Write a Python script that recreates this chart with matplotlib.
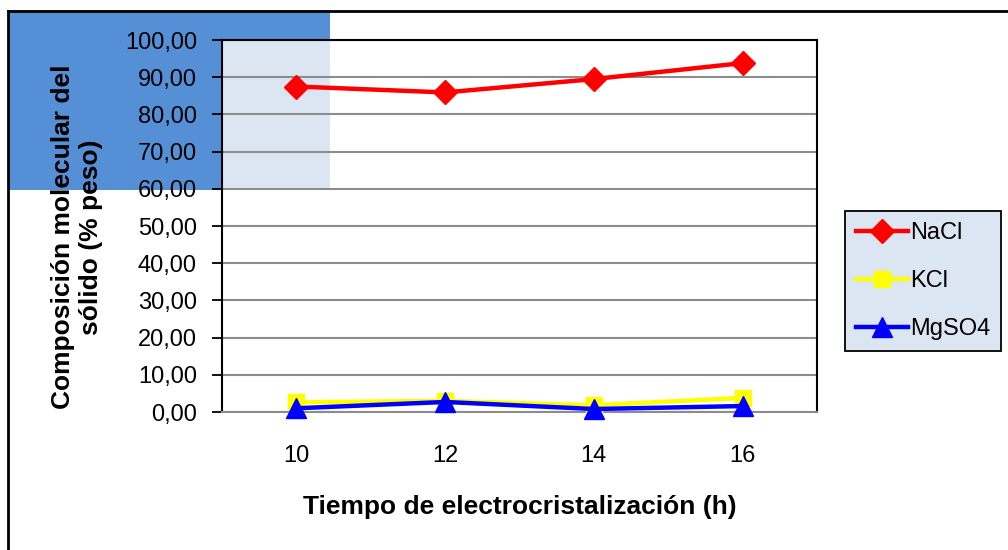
import matplotlib.pyplot as plt
from matplotlib.patches import Rectangle
from matplotlib.lines import Line2D

plt.rcParams['font.family'] = ['Liberation Sans', 'DejaVu Sans']

# data
tiempo = [10, 12, 14, 16]
nacl = [87.5, 85.9, 89.5, 93.8]
kcl = [2.6, 3.0, 1.8, 3.8]
mgso4 = [1.0, 2.7, 0.8, 1.6]
y_ticks = [0, 10, 20, 30, 40, 50, 60, 70, 80, 90, 100]

fig = plt.figure(figsize=(10.08, 5.5), dpi=100)
fig.patch.set_facecolor('white')

# stray blue block behind the top-left corner of the chart
fig.patches.append(Rectangle((8 / 1008, 1 - 190 / 550), 322 / 1008, 180 / 550,
                             transform=fig.transFigure, facecolor='#5590d6',
                             edgecolor='none', zorder=-1))
# outer chart frame (top and left edges visible)
fig.add_artist(Line2D([8 / 1008, 1], [1 - 11 / 550, 1 - 11 / 550],
                      transform=fig.transFigure, color='black', lw=2, zorder=5))
fig.add_artist(Line2D([8 / 1008, 8 / 1008], [0, 1 - 11 / 550],
                      transform=fig.transFigure, color='black', lw=2, zorder=5))

ax = fig.add_axes([222 / 1008, 1 - 412 / 550, 595 / 1008, 372 / 550])
ax.set_zorder(1)
ax.set_facecolor('white')
ax.add_patch(Rectangle((0, (412 - 190) / 372), (330 - 222) / 595, 1,
                       transform=ax.transAxes, facecolor='#dce6f2',
                       edgecolor='none', zorder=0.1))

ax.plot(tiempo, nacl, color='#ff0000', lw=3.2, marker='D', ms=12,
        label='NaCl', zorder=3, clip_on=False)
ax.plot(tiempo, kcl, color='#ffff00', lw=3.2, marker='s', ms=12,
        label='KCl', zorder=3, clip_on=False)
ax.plot(tiempo, mgso4, color='#0000ff', lw=3.2, marker='^', ms=14,
        label='MgSO4', zorder=4, clip_on=False)

ax.set_xlim(9, 17)
ax.set_ylim(0, 100)
ax.set_xticks(tiempo)
ax.set_yticks(y_ticks)
ax.set_yticklabels([f'{v:.2f}'.replace('.', ',') for v in y_ticks])
ax.tick_params(axis='y', direction='out', length=7, width=1.3, pad=11,
               labelsize=17, color='black')
ax.tick_params(axis='x', length=0, pad=24, labelsize=17)

ax.set_axisbelow(True)
ax.yaxis.grid(True, color='#8c8c8c', lw=1.5)
for side in ['top', 'left', 'right']:
    ax.spines[side].set_color('black')
    ax.spines[side].set_linewidth(1.5)
ax.spines['bottom'].set_color('#8c8c8c')
ax.spines['bottom'].set_linewidth(1.5)

ax.set_xlabel('Tiempo de electrocristalización (h)', fontsize=19,
              fontweight='bold', labelpad=20)
ax.set_ylabel('Composición molecular del\nsólido (% peso)', fontsize=19,
              fontweight='bold', labelpad=14)
ax.yaxis.set_label_coords(-0.2, 0.47)

leg = ax.legend(loc='center left', bbox_to_anchor=(845 / 1008, 1 - 281 / 550),
                bbox_transform=fig.transFigure, fontsize=17, frameon=True,
                fancybox=False, framealpha=1, facecolor='#dce6f2',
                edgecolor='black', handlelength=2.2, handletextpad=0.1,
                labelspacing=1.1, borderpad=0.45, borderaxespad=0)
leg.get_frame().set_linewidth(1.3)

fig.savefig('out.png', dpi=100)
